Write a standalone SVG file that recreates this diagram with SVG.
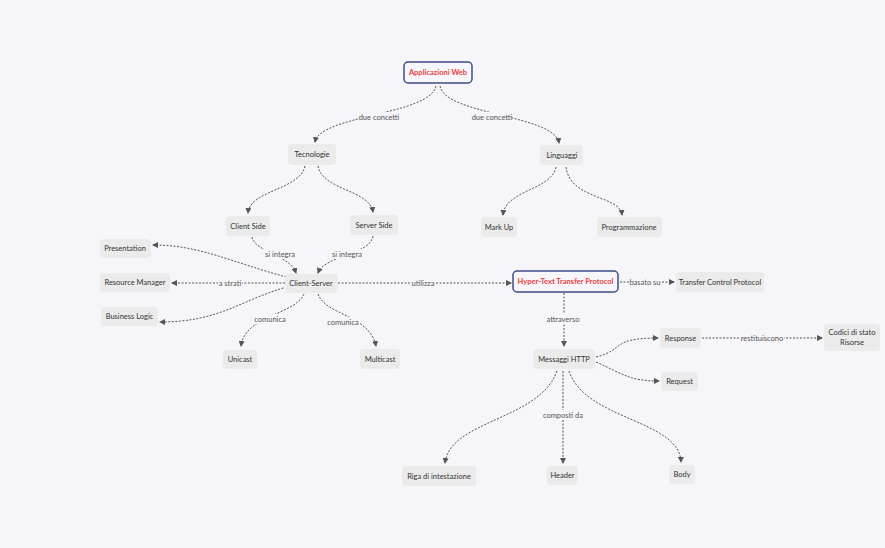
<svg xmlns="http://www.w3.org/2000/svg" width="885" height="548" viewBox="0 0 885 548">
<defs>
<marker id="a" viewBox="0 0 6 6" refX="5" refY="3" markerWidth="6" markerHeight="6" orient="auto"><path d="M0,0 L6,3 L0,6 z" fill="#555"/></marker>
<style>
text{font-family:Lato,"Liberation Sans",sans-serif;font-size:7.5px;fill:#333;text-anchor:middle;dominant-baseline:central}
.n rect{fill:#ebebeb;rx:4}
.m rect{fill:#f7f7fb;stroke:#3d4e87;stroke-width:1.5;rx:4}
.m text{fill:#e8413c;font-weight:bold}
#edges path{fill:none;stroke:#555;stroke-width:1;stroke-dasharray:2 1.5;marker-end:url(#a)}
.l rect{fill:#f5f5fa}
.l text{fill:#555}
</style>
</defs>
<rect width="885" height="548" fill="#f5f5fa"/>
<g id="edges">
<path d="M436,86 C430,115 320,115 315,142"/>
<path d="M440,86 C445,115 555,115 559,143"/>
<path d="M305,166 C300,190 250,190 248,213"/>
<path d="M318,166 C322,190 370,190 373,212"/>
<path d="M556,167 C552,190 505,190 503,215"/>
<path d="M566,167 C570,200 620,195 622,215"/>
<path d="M252,237 C255,252 290,255 296,273"/>
<path d="M373,236 C370,255 325,255 318,273"/>
<path d="M290,278 C230,262 200,245 153,245"/>
<path d="M285,283 L172,283"/>
<path d="M287,287 C240,300 220,322 160,322"/>
<path d="M304,294 C295,315 245,315 241,346"/>
<path d="M318,294 C325,315 370,315 376,346"/>
<path d="M338,283 L511,283"/>
<path d="M620,282 L674,282"/>
<path d="M564,293 L564,346"/>
<path d="M596,357 C625,350 610,338 658,338"/>
<path d="M596,362 C625,375 630,381 659,381"/>
<path d="M702,338 L822,338"/>
<path d="M557,371 C540,420 450,420 445,463"/>
<path d="M563,371 L563,463"/>
<path d="M569,371 C585,420 680,420 681,462"/>
</g>
<g class="l">
<rect x="359" y="112" width="40" height="10"/><text x="379" y="117">due concetti</text>
<rect x="472" y="112" width="40" height="10"/><text x="492" y="117">due concetti</text>
<rect x="264" y="249" width="32" height="10"/><text x="280" y="254">si integra</text>
<rect x="331" y="249" width="32" height="10"/><text x="347" y="254">si integra</text>
<rect x="218" y="278" width="24" height="10"/><text x="230" y="283">a strati</text>
<rect x="254" y="314" width="32" height="10"/><text x="270" y="319">comunica</text>
<rect x="327" y="317" width="32" height="10"/><text x="343" y="322">comunica</text>
<rect x="410" y="278" width="26" height="10"/><text x="423" y="283">utilizza</text>
<rect x="629" y="277" width="32" height="10"/><text x="645" y="282">basato su</text>
<rect x="546" y="314" width="34" height="10"/><text x="563" y="319">attraverso</text>
<rect x="740" y="333" width="44" height="10"/><text x="762" y="338">restituiscono</text>
<rect x="543" y="410" width="40" height="10"/><text x="563" y="415">composti da</text>
</g>
<g id="n1" class="m"><rect x="404" y="62" width="68" height="21"/><text x="438" y="72.5">Applicazioni Web</text></g>
<g id="n2" class="n"><rect x="288" y="144" width="48" height="21"/><text x="312" y="154.5">Tecnologie</text></g>
<g id="n3" class="n"><rect x="540" y="145" width="43" height="20"/><text x="562" y="155">Linguaggi</text></g>
<g id="n4" class="n"><rect x="226" y="216" width="44" height="20"/><text x="248" y="226">Client Side</text></g>
<g id="n5" class="n"><rect x="350" y="215" width="48" height="20"/><text x="374" y="225">Server Side</text></g>
<g id="n6" class="n"><rect x="481" y="217" width="36" height="20"/><text x="499" y="227">Mark Up</text></g>
<g id="n7" class="n"><rect x="597" y="217" width="65" height="20"/><text x="629" y="227">Programmazione</text></g>
<g id="n8" class="n"><rect x="100" y="239" width="51" height="19"/><text x="125" y="248.5">Presentation</text></g>
<g id="n9" class="n"><rect x="100" y="273" width="70" height="19"/><text x="135" y="282.5">Resource Manager</text></g>
<g id="n10" class="n"><rect x="101" y="307" width="57" height="19"/><text x="129.5" y="316.5">Business Logic</text></g>
<g id="n11" class="n"><rect x="285" y="274" width="53" height="19"/><text x="311" y="283.5">Client-Server</text></g>
<g id="n12" class="n"><rect x="223" y="350" width="34" height="19"/><text x="240" y="359.5">Unicast</text></g>
<g id="n13" class="n"><rect x="360" y="349" width="40" height="20"/><text x="380" y="359">Multicast</text></g>
<g id="n14" class="m"><rect x="513" y="271" width="105" height="21"/><text x="565.5" y="281.5">Hyper-Text Transfer Protocol</text></g>
<g id="n15" class="n"><rect x="676" y="272" width="88" height="20"/><text x="720" y="282">Transfer Control Protocol</text></g>
<g id="n16" class="n"><rect x="533" y="349" width="62" height="20"/><text x="564" y="359">Messaggi HTTP</text></g>
<g id="n17" class="n"><rect x="660" y="328" width="41" height="20"/><text x="680.5" y="338">Response</text></g>
<g id="n18" class="n"><rect x="661" y="372" width="37" height="19"/><text x="679.5" y="381.5">Request</text></g>
<g id="n19" class="n"><rect x="824" y="324" width="56" height="27"/><text x="852" y="332">Codici di stato</text><text x="852" y="342">Risorse</text></g>
<g id="n20" class="n"><rect x="402" y="466" width="74" height="20"/><text x="439" y="476">Riga di intestazione</text></g>
<g id="n21" class="n"><rect x="547" y="466" width="31" height="19"/><text x="562.5" y="475.5">Header</text></g>
<g id="n22" class="n"><rect x="669" y="465" width="26" height="19"/><text x="682" y="474.5">Body</text></g>
</svg>
